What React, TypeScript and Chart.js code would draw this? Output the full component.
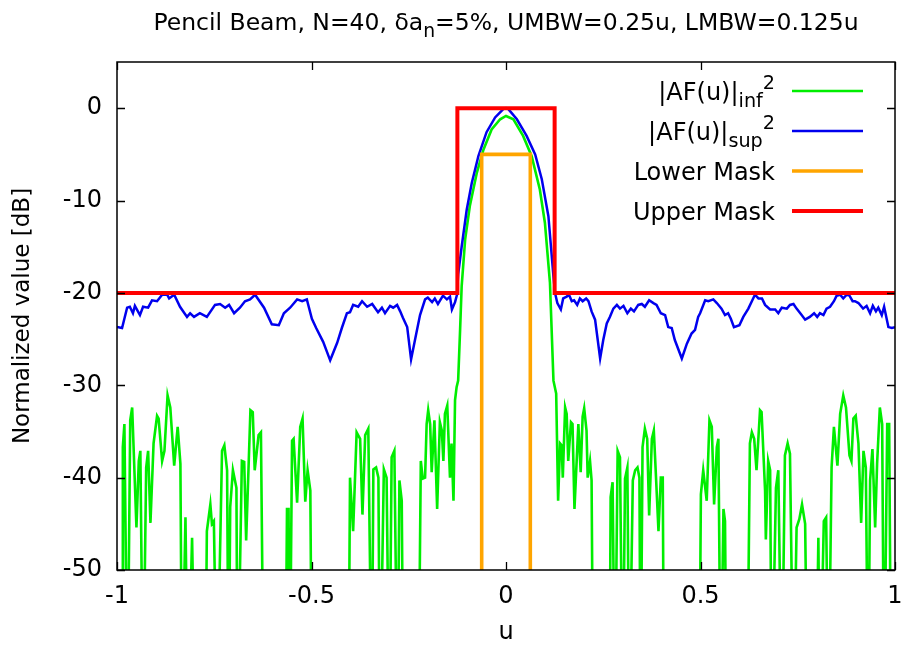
import React, { useEffect, useRef } from 'react';
import { Chart, registerables } from 'chart.js';

Chart.register(...registerables);

// ---------------- data ----------------
const X_TICKS = [-1, -0.5, 0, 0.5, 1];
const Y_TICKS = [-50, -40, -30, -20, -10, 0];

// |AF(u)|sup^2  (blue)
const supU = [
  -1.0, -0.987, -0.974, -0.967, -0.959, -0.954, -0.941, -0.933, -0.92, -0.91, -0.897, -0.884, -0.871, -0.866,
  -0.853, -0.838, -0.82, -0.812, -0.802, -0.787, -0.769, -0.748, -0.735, -0.722, -0.712, -0.699, -0.684, -0.671,
  -0.658, -0.645, -0.622, -0.602, -0.584, -0.571, -0.555, -0.537, -0.524, -0.512, -0.499, -0.488, -0.47, -0.452,
  -0.434, -0.422, -0.409, -0.401, -0.393, -0.38, -0.37, -0.357, -0.344, -0.329, -0.319, -0.311, -0.298, -0.29,
  -0.28, -0.272, -0.265, -0.254, -0.244, -0.234, -0.221, -0.208, -0.201, -0.19, -0.183, -0.175, -0.162, -0.152,
  -0.144, -0.139, -0.131, -0.126, -0.123, -0.114, -0.101, -0.088, -0.071, -0.05, -0.028, -0.007, 0, 0.006,
  0.028, 0.053, 0.075, 0.092, 0.109, 0.122, 0.126, 0.132, 0.141, 0.147, 0.156, 0.162, 0.169, 0.175, 0.183,
  0.19, 0.197, 0.206, 0.212, 0.22, 0.229, 0.242, 0.25, 0.259, 0.267, 0.276, 0.285, 0.293, 0.302, 0.312, 0.321,
  0.329, 0.34, 0.349, 0.357, 0.368, 0.379, 0.387, 0.398, 0.409, 0.417, 0.426, 0.434, 0.452, 0.465, 0.477,
  0.486, 0.494, 0.499, 0.512, 0.52, 0.533, 0.542, 0.554, 0.563, 0.571, 0.578, 0.586, 0.6, 0.61, 0.623, 0.632,
  0.64, 0.649, 0.658, 0.666, 0.679, 0.692, 0.7, 0.709, 0.722, 0.73, 0.739, 0.747, 0.76, 0.769, 0.781, 0.792,
  0.8, 0.807, 0.816, 0.824, 0.833, 0.843, 0.85, 0.859, 0.867, 0.876, 0.883, 0.891, 0.897, 0.906, 0.918,
  0.927, 0.936, 0.943, 0.951, 0.957, 0.966, 0.972, 0.983, 0.992, 1.0,
];
const supDb = [
  -23.7, -23.8, -21.6, -21.5, -22.2, -21.4, -22.4, -21.5, -21.6, -20.8, -20.9, -20.2, -20.2, -20.6,
  -20.2, -21.5, -22.6, -22.2, -22.6, -22.2, -22.6, -21.3, -21.2, -21.6, -21.3, -22.2, -21.6, -20.9,
  -20.7, -20.2, -21.6, -23.4, -23.5, -22.2, -21.6, -20.7, -20.9, -20.7, -22.8, -23.8, -25.3, -27.3,
  -25.4, -23.8, -22.2, -22.1, -21.3, -21.5, -20.9, -21.5, -21.2, -22.1, -21.6, -22.2, -21.4, -21.6,
  -21.3, -22.0, -22.7, -23.7, -27.2, -25.1, -22.4, -20.7, -20.5, -21.0, -20.6, -21.2, -20.3, -20.7,
  -20.4, -21.8, -21.0, -20.2, -18.0, -15.0, -11.0, -8.1, -5.2, -2.6, -1.0, -0.1, 0, -0.1,
  -1.2, -3.0, -5.0, -7.7, -11.7, -18.2, -20.0, -21.1, -21.8, -20.6, -20.4, -20.2, -20.9, -20.8, -21.3,
  -20.6, -20.9, -20.6, -20.9, -22.0, -22.9, -27.1, -25.1, -23.3, -22.6, -21.7, -21.3, -21.7, -21.4, -22.2, -21.7,
  -22.0, -21.3, -21.2, -21.5, -20.8, -21.1, -21.3, -22.2, -22.4, -23.7, -23.8, -25.1, -27.1, -25.5, -24.4,
  -24.0, -22.6, -22.2, -20.8, -20.9, -20.7, -21.1, -21.7, -22.4, -22.2, -22.8, -23.7, -23.5, -22.6, -21.7, -20.9,
  -20.2, -20.6, -20.6, -21.3, -21.8, -21.8, -22.2, -21.6, -21.7, -21.3, -21.2, -21.7, -22.4, -22.9, -22.6, -22.2,
  -22.6, -22.2, -22.4, -21.7, -21.5, -20.9, -20.3, -20.2, -20.6, -20.2, -20.3, -20.9, -20.9, -21.1, -21.7,
  -21.4, -22.2, -21.4, -22.0, -21.6, -22.4, -21.5, -23.7, -23.8, -23.7,
];

// |AF(u)|inf^2  (green); -65 means below the plotted range
const infU = [
  -1.0, -0.987, -0.985, -0.981, -0.973, -0.966, -0.961, -0.95, -0.944, -0.94, -0.933, -0.925, -0.92, -0.914,
  -0.906, -0.897, -0.893, -0.884, -0.878, -0.87, -0.863, -0.853, -0.844, -0.837, -0.833, -0.824, -0.818, -0.807,
  -0.799, -0.773, -0.769, -0.76, -0.756, -0.751, -0.743, -0.73, -0.724, -0.717, -0.713, -0.709, -0.702, -0.693,
  -0.69, -0.679, -0.673, -0.668, -0.657, -0.651, -0.646, -0.636, -0.63, -0.623, -0.567, -0.563, -0.559, -0.556,
  -0.55, -0.546, -0.537, -0.529, -0.523, -0.516, -0.51, -0.503, -0.499, -0.405, -0.401, -0.393, -0.384, -0.375,
  -0.369, -0.362, -0.354, -0.345, -0.341, -0.334, -0.328, -0.324, -0.314, -0.307, -0.3, -0.294, -0.287, -0.279,
  -0.274, -0.268, -0.264, -0.225, -0.219, -0.214, -0.208, -0.204, -0.2, -0.195, -0.191, -0.184, -0.177, -0.17,
  -0.165, -0.161, -0.157, -0.151, -0.144, -0.14, -0.135, -0.131, -0.127, -0.123, -0.118, -0.114, -0.105, -0.093,
  -0.075, -0.058, -0.037, -0.015, 0, 0.019, 0.044, 0.066, 0.087, 0.1, 0.113, 0.122, 0.129, 0.134, 0.139, 0.143,
  0.146, 0.152, 0.156, 0.16, 0.167, 0.171, 0.176, 0.186, 0.192, 0.197, 0.201, 0.207, 0.21, 0.216, 0.22, 0.224,
  0.266, 0.269, 0.274, 0.28, 0.287, 0.293, 0.3, 0.306, 0.312, 0.317, 0.326, 0.332, 0.338, 0.343, 0.346, 0.351,
  0.357, 0.363, 0.368, 0.375, 0.38, 0.386, 0.392, 0.398, 0.403, 0.406, 0.497, 0.501, 0.507, 0.516, 0.523, 0.529,
  0.535, 0.542, 0.546, 0.552, 0.559, 0.563, 0.567, 0.62, 0.627, 0.632, 0.638, 0.644, 0.653, 0.657, 0.666, 0.668,
  0.674, 0.679, 0.683, 0.694, 0.7, 0.709, 0.717, 0.724, 0.73, 0.739, 0.747, 0.754, 0.761, 0.769, 0.775, 0.797,
  0.803, 0.807, 0.817, 0.823, 0.829, 0.837, 0.843, 0.852, 0.859, 0.867, 0.874, 0.883, 0.888, 0.893, 0.899, 0.906,
  0.913, 0.919, 0.925, 0.931, 0.936, 0.942, 0.949, 0.954, 0.961, 0.967, 0.972, 0.98, 0.985, 0.99, 1.0,
];
const infDb = [
  -65, -65, -36.7, -34.2, -65, -33.8, -32.4, -45.4, -38.2, -37.1, -65, -38.9, -37.1, -44.9,
  -36.3, -33.3, -33.6, -38.2, -37.1, -31.1, -32.4, -38.7, -34.5, -38.5, -65, -44.3, -65, -46.5,
  -65, -65, -45.8, -42.9, -45.0, -44.7, -65, -37.1, -36.5, -39.2, -65, -43.2, -39.2, -41.1,
  -65, -38.2, -38.3, -46.8, -32.7, -32.9, -39.2, -35.4, -35.1, -65, -65, -43.4, -43.4, -65,
  -36.0, -35.8, -42.7, -34.5, -33.6, -42.6, -39.2, -41.4, -65, -65, -40.0, -45.8, -35.1, -35.8,
  -44.0, -35.4, -34.7, -65, -39.1, -38.9, -40.0, -65, -39.1, -40.0, -65, -37.8, -37.1, -65,
  -40.3, -42.5, -65, -65, -38.2, -40.1, -40.0, -34.2, -32.7, -34.2, -39.4, -33.8, -43.4, -34.0,
  -34.9, -38.2, -33.1, -32.2, -40.0, -36.3, -42.5, -31.6, -30.2, -29.5, -24.0, -19.3, -14.2, -10.6,
  -7.0, -4.5, -2.3, -1.2, -0.84, -1.2, -3.0, -5.2, -8.8, -12.4, -18.9, -29.5, -30.9, -42.5, -36.3, -36.5,
  -40.0, -32.4, -33.1, -38.2, -34.0, -34.2, -43.4, -34.2, -39.4, -33.4, -32.5, -34.9, -40.0, -38.2, -40.3, -65,
  -65, -42.1, -40.5, -65, -37.1, -37.8, -65, -40.1, -38.9, -65, -40.3, -39.2, -38.9, -40.0, -65, -36.7,
  -34.7, -35.8, -44.1, -35.8, -34.9, -40.3, -45.8, -40.0, -40.0, -65, -65, -41.8, -39.2, -42.5, -33.8, -34.5,
  -42.9, -36.7, -35.8, -65, -43.4, -44.7, -65, -65, -36.3, -35.1, -35.8, -39.2, -32.7, -32.9, -41.4, -46.7,
  -38.2, -39.2, -65, -41.1, -39.2, -65, -37.6, -36.3, -37.4, -65, -45.4, -44.5, -42.9, -45.0, -65, -65,
  -46.5, -65, -44.7, -44.3, -65, -38.9, -34.5, -38.7, -33.1, -31.1, -32.4, -37.6, -38.2, -33.6, -33.3, -36.3,
  -44.9, -37.1, -38.9, -65, -40.3, -36.9, -45.4, -38.5, -32.4, -34.2, -65, -34.2, -34.2, -65, -65,
];

// masks
const lowerMaskU = [-0.0625, -0.0625, 0.0625, 0.0625];
const lowerMaskDb = [-65, -5, -5, -65];
const upperMaskU = [-1, -0.125, -0.125, 0.125, 0.125, 1];
const upperMaskDb = [-20, -20, 0, 0, -20, -20];

const TITLE_PARTS = [
  { t: 'Pencil Beam, N=40, \u03b4a', k: 'n' },
  { t: 'n', k: 'sub' },
  { t: '=5%, UMBW=0.25u, LMBW=0.125u', k: 'n' },
];
const LEGEND_ENTRIES = [
  [{ t: '|AF(u)|', k: 'n' }, { t: 'inf', k: 'sub' }, { t: '2', k: 'sup' }],
  [{ t: '|AF(u)|', k: 'n' }, { t: 'sup', k: 'sub' }, { t: '2', k: 'sup' }],
  [{ t: 'Lower Mask', k: 'n' }],
  [{ t: 'Upper Mask', k: 'n' }],
];

const FONT = '"DejaVu Sans", "Liberation Sans", sans-serif';
const COLORS = { inf: '#00ee00', sup: '#0000ee', lower: '#ffa500', upper: '#ff0000' };

const zip = (xs: number[], ys: number[]) => xs.map((x, i) => ({ x, y: ys[i] }));

type Part = { t: string; k: string };

function richWidth(ctx: CanvasRenderingContext2D, parts: Part[], fs: number) {
  let w = 0;
  for (const p of parts) {
    const size = p.k === 'n' ? fs : fs * 0.8;
    ctx.font = `${size}px ${FONT}`;
    w += ctx.measureText(p.t).width;
  }
  return w;
}

function drawRich(ctx: CanvasRenderingContext2D, parts: Part[], x: number, baseline: number, fs: number) {
  let cx = x;
  ctx.textAlign = 'left';
  ctx.textBaseline = 'alphabetic';
  for (const p of parts) {
    const size = p.k === 'n' ? fs : fs * 0.8;
    const dy = p.k === 'sub' ? fs * 0.3 : p.k === 'sup' ? -fs * 0.42 : 0;
    ctx.font = `${size}px ${FONT}`;
    ctx.fillText(p.t, cx, baseline + dy);
    cx += ctx.measureText(p.t).width;
  }
}

const framePlugin = {
  id: 'frameTicks',
  afterDatasetsDraw(chart: any) {
    const { ctx, chartArea: a, scales } = chart;
    const L = 8;
    ctx.save();
    ctx.strokeStyle = '#000';
    ctx.lineWidth = 1.3;
    ctx.beginPath();
    for (const t of scales.x.ticks) {
      const px = Math.round(scales.x.getPixelForValue(t.value)) + 0.5;
      ctx.moveTo(px, a.bottom);
      ctx.lineTo(px, a.bottom - L);
      ctx.moveTo(px, a.top);
      ctx.lineTo(px, a.top + L);
    }
    for (const t of scales.y.ticks) {
      const py = Math.round(scales.y.getPixelForValue(t.value)) + 0.5;
      ctx.moveTo(a.left, py);
      ctx.lineTo(a.left + L, py);
      ctx.moveTo(a.right, py);
      ctx.lineTo(a.right - L, py);
    }
    ctx.stroke();
    ctx.lineWidth = 1.5;
    ctx.strokeRect(a.left, a.top, a.right - a.left, a.bottom - a.top);
    ctx.restore();
  },
};

const textPlugin = {
  id: 'richText',
  afterDraw(chart: any) {
    const { ctx, chartArea: a } = chart;
    ctx.save();
    ctx.fillStyle = '#000';
    // title
    const fsT = 23.5;
    const wT = richWidth(ctx, TITLE_PARTS, fsT);
    drawRich(ctx, TITLE_PARTS, (a.left + a.right) / 2 - wT / 2, 29.5, fsT);
    // legend
    const fs = 24;
    const textRight = a.right - 120;
    const ds = chart.data.datasets;
    LEGEND_ENTRIES.forEach((parts, i) => {
      const y = a.top + 29 + i * 40;
      const w = richWidth(ctx, parts, fs);
      ctx.fillStyle = '#000';
      drawRich(ctx, parts, textRight - w, y + 8.5, fs);
      const d = ds[i];
      ctx.strokeStyle = d.borderColor;
      ctx.lineWidth = d.borderWidth;
      ctx.beginPath();
      ctx.moveTo(a.right - 103, y);
      ctx.lineTo(a.right - 32, y);
      ctx.stroke();
    });
    ctx.restore();
  },
};

export default function App() {
  const ref = useRef<HTMLCanvasElement>(null);
  useEffect(() => {
    const canvas = ref.current;
    if (!canvas) return;
    const chart = new Chart(canvas, {
      type: 'line',
      data: {
        datasets: [
          { label: '|AF(u)|inf^2', data: zip(infU, infDb), borderColor: COLORS.inf, borderWidth: 2.6, order: 4 },
          { label: '|AF(u)|sup^2', data: zip(supU, supDb), borderColor: COLORS.sup, borderWidth: 2.5, order: 3 },
          { label: 'Lower Mask', data: zip(lowerMaskU, lowerMaskDb), borderColor: COLORS.lower, borderWidth: 3.6, order: 2 },
          { label: 'Upper Mask', data: zip(upperMaskU, upperMaskDb), borderColor: COLORS.upper, borderWidth: 4, order: 1 },
        ].map((d) => ({ ...d, pointRadius: 0, tension: 0, fill: false, borderJoinStyle: 'miter' as const })),
      },
      options: {
        animation: false,
        responsive: true,
        maintainAspectRatio: false,
        events: [],
        layout: { padding: { top: 62, right: 8, left: 0, bottom: 0 } },
        plugins: { legend: { display: false }, title: { display: false }, tooltip: { enabled: false } },
        scales: {
          x: {
            type: 'linear',
            min: -1,
            max: 1,
            afterFit: (s: any) => { s.height = 80; s.paddingLeft = 0; s.paddingRight = 0; },
            afterBuildTicks: (s: any) => { s.ticks = X_TICKS.map((v) => ({ value: v })); },
            grid: { display: false, drawTicks: false },
            border: { display: false },
            ticks: { padding: 12, color: '#000', font: { family: FONT, size: 24 }, callback: (v: any) => String(v), maxRotation: 0 },
            title: { display: true, text: 'u', color: '#000', font: { family: FONT, size: 24, lineHeight: 1.2 }, padding: { top: 0, bottom: 3 } },
          },
          y: {
            type: 'linear',
            min: -50,
            max: 5,
            afterFit: (s: any) => { s.width = 117; s.paddingTop = 0; s.paddingBottom = 0; },
            afterBuildTicks: (s: any) => { s.ticks = Y_TICKS.map((v) => ({ value: v })); },
            grid: { display: false, drawTicks: false },
            border: { display: false },
            ticks: { padding: 15, color: '#000', font: { family: FONT, size: 24 }, callback: (v: any) => String(v) },
            title: { display: true, text: 'Normalized value [dB]', color: '#000', font: { family: FONT, size: 23, lineHeight: 1.2 }, padding: { top: 9, bottom: 0 } },
          },
        },
      },
      plugins: [framePlugin, textPlugin],
    } as any);
    return () => chart.destroy();
  }, []);
  return (
    <div style={{ position: 'fixed', left: 0, top: 0, width: 903, height: 650, background: '#fff' }}>
      <canvas ref={ref} />
    </div>
  );
}
